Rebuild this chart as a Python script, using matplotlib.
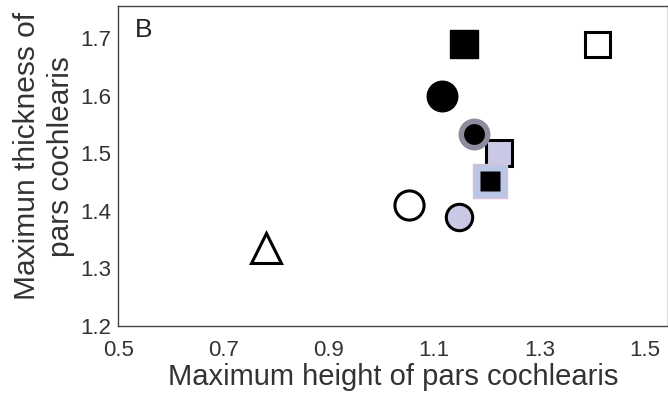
import matplotlib.pyplot as plt

plt.rcParams['font.family'] = ['Liberation Sans', 'DejaVu Sans']

# data (height, thickness)
tri_x, tri_y = [0.78], [1.335]
open_circ_x, open_circ_y = [1.052], [1.41]
lav_circ_x, lav_circ_y = [1.147], [1.39]
blk_circ_x, blk_circ_y = [1.115], [1.60]
halo_circ_x, halo_circ_y = [1.175], [1.533]
lav_sq_x, lav_sq_y = [1.223], [1.50]
halo_sq_x, halo_sq_y = [1.206], [1.452]
blk_sq_x, blk_sq_y = [1.157], [1.69]
open_sq_x, open_sq_y = [1.409], [1.69]

xticks = [0.5, 0.7, 0.9, 1.1, 1.3, 1.5]
yticks = [1.2, 1.3, 1.4, 1.5, 1.6, 1.7]

fig = plt.figure(figsize=(6.68, 4.0), dpi=100)
ax = fig.add_axes([0.177, 0.185, 0.823, 0.80])

lav = '#c9c9e6'
ax.plot(tri_x, tri_y, '^', ms=21, mfc='white', mec='black', mew=2.2)
ax.plot(open_circ_x, open_circ_y, 'o', ms=21, mfc='white', mec='black', mew=2.2)
ax.plot(lav_circ_x, lav_circ_y, 'o', ms=19, mfc=lav, mec='black', mew=2.2)
ax.plot(blk_circ_x, blk_circ_y, 'o', ms=22, mfc='black', mec='black')
ax.plot(lav_sq_x, lav_sq_y, 's', ms=19, mfc=lav, mec='black', mew=2.2)
ax.plot(halo_circ_x, halo_circ_y, 'o', ms=23, mfc='#8c8c9e', mec='none')
ax.plot(halo_circ_x, halo_circ_y, 'o', ms=15, mfc='black', mec='none')
ax.plot(halo_sq_x, halo_sq_y, 's', ms=24, mfc='#bac6e6', mec='#d8c0d8', mew=1)
ax.plot(halo_sq_x, halo_sq_y, 's', ms=14, mfc='black', mec='none')
ax.plot(blk_sq_x, blk_sq_y, 's', ms=20, mfc='black', mec='black')
ax.plot(open_sq_x, open_sq_y, 's', ms=18, mfc='white', mec='black', mew=2.2)

ax.set_xlim(0.5, 1.544)
ax.set_ylim(1.2, 1.756)
ax.set_xticks(xticks)
ax.set_yticks(yticks)
ax.set_xticklabels([str(v) for v in xticks])
ax.set_yticklabels([str(v) for v in yticks])
ax.tick_params(length=0, labelsize=16, colors='#333333')
ax.tick_params(axis='x', pad=10)
ax.tick_params(axis='y', pad=5)
for s in ax.spines.values():
    s.set_color('#444444')
    s.set_linewidth(1.0)

ax.text(0.03, 0.925, 'B', transform=ax.transAxes, fontsize=19, va='center', color='#222222')

ax.set_xlabel('Maximum height of pars cochlearis', fontsize=21, color='#333333')
ax.xaxis.set_label_coords(0.5, -0.115)
ax.set_ylabel('Maximun thickness of\npars cochlearis', fontsize=21.5, color='#333333',
              va='center', linespacing=1.25)
ax.yaxis.set_label_coords(-0.135, 0.53)

fig.savefig('out.png', dpi=100)
